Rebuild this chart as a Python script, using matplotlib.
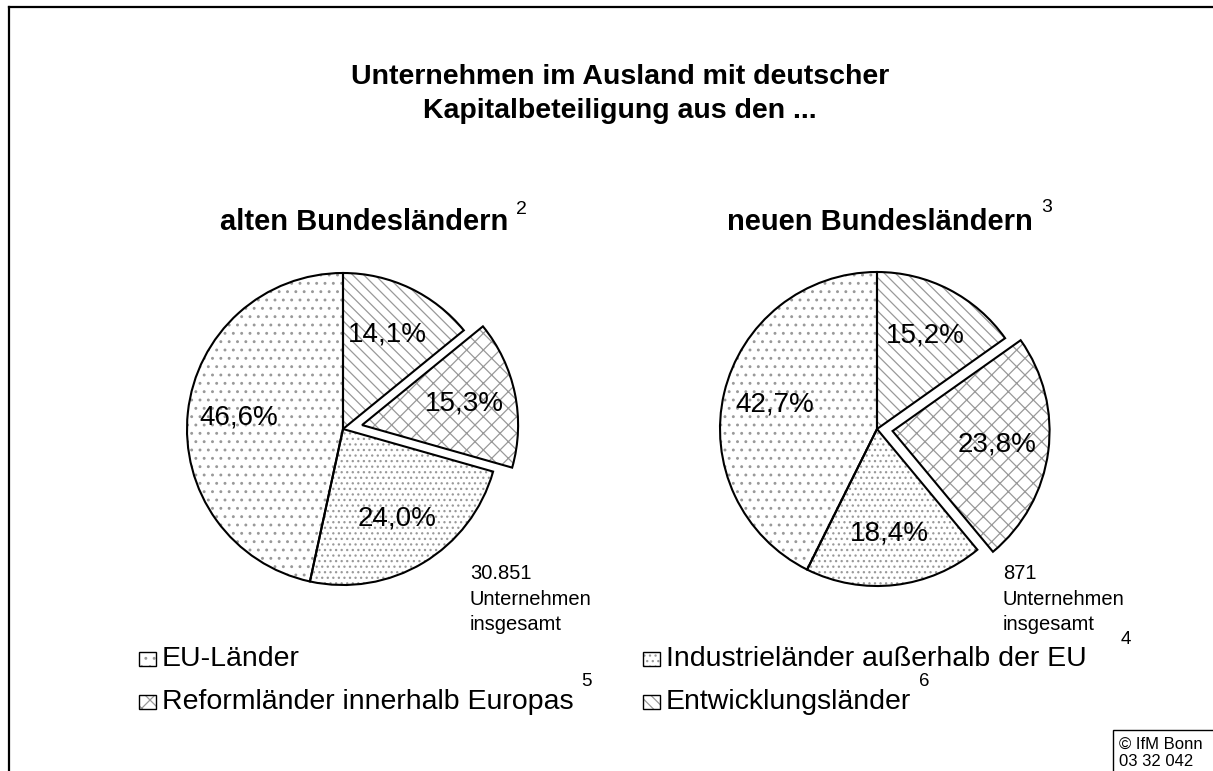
import matplotlib
matplotlib.use('Agg')
import matplotlib.pyplot as plt
from matplotlib.patches import Rectangle
from matplotlib.lines import Line2D

plt.rcParams['font.family'] = ['Liberation Sans', 'DejaVu Sans']
plt.rcParams['hatch.linewidth'] = 0.9

# data (clockwise from 12 o'clock)
categories = ['Entwicklungsländer', 'Reformländer innerhalb Europas',
              'Industrieländer außerhalb der EU', 'EU-Länder']
alte_werte = [14.1, 15.3, 24.0, 46.6]
neue_werte = [15.2, 23.8, 18.4, 42.7]
alte_gesamt = '30.851'
neue_gesamt = '871'
fussnoten = {'Entwicklungsländer': '6', 'Reformländer innerhalb Europas': '5',
             'Industrieländer außerhalb der EU': '4', 'EU-Länder': ''}

hatches = ['\\\\\\', 'xx', '...', '..']
hatch_grey = '#999999'

W, H = 1213, 771
fig = plt.figure(figsize=(W / 100, H / 100), dpi=100)


def fx(px):
    return px / W


def fy(py):
    return 1 - py / H


def pct(p):
    return f'{p:.1f}%'.replace('.', ',')


def draw_pie(cx, cy, r, values, explode_amt):
    half = 1.15
    size = 2 * half * r
    ax = fig.add_axes([fx(cx - size / 2), fy(cy + size / 2), size / W, size / H])
    explode = [explode_amt if i == 1 else 0 for i in range(len(values))]
    # hatched fill first (grey hatch), then black outlines + labels on top
    ax.pie(values, explode=explode, startangle=90, counterclock=False,
           colors=['white'] * len(values), hatch=hatches,
           wedgeprops=dict(edgecolor=hatch_grey, linewidth=0))
    ax.pie(values, explode=explode, startangle=90, counterclock=False,
           wedgeprops=dict(facecolor='none', edgecolor='black', linewidth=1.5),
           autopct=pct, pctdistance=0.67, textprops=dict(fontsize=20))
    ax.set_xlim(-half, half)
    ax.set_ylim(-half, half)
    ax.set_aspect('equal')
    ax.axis('off')
    return ax


draw_pie(343, 429, 156, alte_werte, 0.125)
draw_pie(877, 429, 157, neue_werte, 0.10)

# title
fig.text(fx(620), fy(94), 'Unternehmen im Ausland mit deutscher\nKapitalbeteiligung aus den ...',
         ha='center', va='center', fontsize=20.5, fontweight='bold', linespacing=1.4)

renderer = fig.canvas.get_renderer()


def sup_after(t, text, dy_px, gap=8, size=14):
    bb = t.get_window_extent(renderer)
    ymid = (bb.y0 + bb.y1) / 2
    fig.text((bb.x1 + gap) / W, (ymid + dy_px) / H, text, ha='left', va='center', fontsize=size)


t1 = fig.text(fx(220), fy(222), 'alten Bundesländern', ha='left', va='center',
              fontsize=21, fontweight='bold')
sup_after(t1, '2', 12)
t2 = fig.text(fx(727), fy(222), 'neuen Bundesländern', ha='left', va='center',
              fontsize=21, fontweight='bold')
sup_after(t2, '3', 15)

# totals
fig.text(fx(470), fy(564), f'{alte_gesamt}\nUnternehmen\ninsgesamt', ha='left', va='top',
         fontsize=14.5, linespacing=1.45)
fig.text(fx(1003), fy(564), f'{neue_gesamt}\nUnternehmen\ninsgesamt', ha='left', va='top',
         fontsize=14.5, linespacing=1.45)

# legend (two rows, two columns)
legend_order = ['EU-Länder', 'Industrieländer außerhalb der EU',
                'Reformländer innerhalb Europas', 'Entwicklungsländer']
col_x = [139, 643]
row_y = [659, 702]
sup_gap = {'4': 34, '5': 8, '6': 8}
for k, name in enumerate(legend_order):
    i = categories.index(name)
    x0 = col_x[k % 2]
    y0 = row_y[k // 2]
    fig.add_artist(Rectangle((fx(x0), fy(y0 + 7)), 17 / W, 14 / H, transform=fig.transFigure,
                             facecolor='white', edgecolor=hatch_grey, hatch=hatches[i], linewidth=0))
    fig.add_artist(Rectangle((fx(x0), fy(y0 + 7)), 17 / W, 14 / H, transform=fig.transFigure,
                             facecolor='none', edgecolor='black', linewidth=1.0))
    t = fig.text(fx(x0 + 23), fy(y0), name, ha='left', va='center', fontsize=20.5)
    note = fussnoten[name]
    if note:
        sup_after(t, note, 20, gap=sup_gap[note], size=13.5)

# frame lines
fig.add_artist(Line2D([fx(9), fx(9)], [fy(7), 0], color='black', linewidth=1.6))
fig.add_artist(Line2D([fx(9), 1], [fy(7), fy(7)], color='black', linewidth=1.6))

# source box
fig.add_artist(Rectangle((fx(1113), fy(780)), 110 / W, 50 / H, transform=fig.transFigure,
                         facecolor='white', edgecolor='black', linewidth=1.0))
fig.text(fx(1119), fy(744), '© IfM Bonn', ha='left', va='center', fontsize=12)
fig.text(fx(1119), fy(762), '03 32 042', ha='left', va='center', fontsize=12)

fig.savefig('out.png', dpi=100)
